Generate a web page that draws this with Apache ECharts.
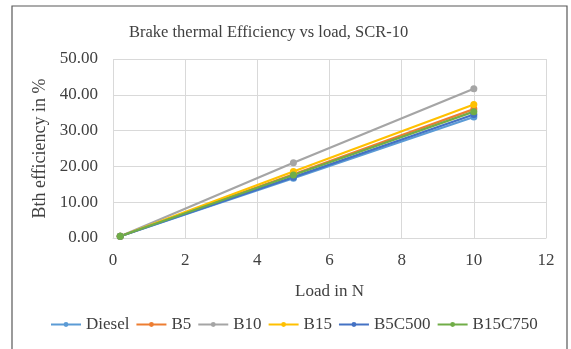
<!DOCTYPE html>
<html>
<head>
<meta charset="utf-8">
<script src="https://cdn.jsdelivr.net/npm/echarts@6/dist/echarts.min.js"></script>
<style>
  html, body { margin: 0; padding: 0; background: #fff; }
  #chart { width: 571px; height: 349px; }
</style>
</head>
<body>
<div id="chart"></div>
<script>
// loads in N
const loads = [0.2, 5, 10]
const seriesNames = ["Diesel", "B5", "B10", "B15", "B5C500", "B15C750"]
const diesel = [0.5, 16.7, 33.8]
const b5 = [0.5, 17.8, 36.0]
const b10 = [0.5, 21.0, 41.7]
const b15 = [0.5, 18.6, 37.3]
const b5c500 = [0.5, 17.0, 34.5]
const b15c750 = [0.5, 17.6, 35.3]
const colors = ["#5B9BD5", "#ED7D31", "#A5A5A5", "#FFC000", "#4472C4", "#70AD47"]

const values = [diesel, b5, b10, b15, b5c500, b15c750]
const font = "Liberation Serif"
const textColor = "#404040"

const chart = echarts.init(document.getElementById("chart"))
chart.setOption({
    animation: false,
    color: colors,
    textStyle: { fontFamily: font },
    title: {
        text: "Brake thermal Efficiency vs load, SCR-10",
        left: 124,
        top: 19,
        textStyle: { fontFamily: font, fontSize: 16.5, fontWeight: "normal", color: textColor }
    },
    graphic: [{
        type: "rect",
        shape: { x: 12, y: 6, width: 555, height: 350 },
        style: { fill: null, stroke: "#595959", lineWidth: 1.2 },
        silent: true
    }],
    grid: { left: 113, right: 25, top: 59, bottom: 111 },
    legend: {
        top: 311,
        left: 45,
        itemWidth: 30,
        itemHeight: 6,
        itemGap: 6,
        textStyle: { fontFamily: font, fontSize: 17, color: textColor },
        data: seriesNames
    },
    xAxis: {
        type: "value",
        min: 0, max: 12, interval: 2,
        name: "Load in N",
        nameLocation: "middle",
        nameGap: 45,
        nameTextStyle: { fontFamily: font, fontSize: 17, color: textColor },
        axisLine: { lineStyle: { color: "#d9d9d9" } },
        axisTick: { show: false },
        axisLabel: { fontFamily: font, fontSize: 17, color: textColor, margin: 14 },
        splitLine: { lineStyle: { color: "#d9d9d9" } }
    },
    yAxis: {
        type: "value",
        min: 0, max: 50, interval: 10,
        name: "Bth efficiency in %",
        nameLocation: "middle",
        nameGap: 57,
        nameTextStyle: { fontFamily: font, fontSize: 18, color: textColor },
        axisLine: { show: false },
        axisTick: { show: false },
        axisLabel: {
            fontFamily: font, fontSize: 17, color: textColor, margin: 15,
            formatter: v => v.toFixed(2)
        },
        splitLine: { lineStyle: { color: "#d9d9d9" } }
    },
    series: seriesNames.map((name, i) => ({
        name: name,
        type: "line",
        data: loads.map((x, j) => [x, values[i][j]]),
        symbol: "circle",
        symbolSize: 7,
        lineStyle: { width: 2.2 }
    }))
})
</script>
</body>
</html>
